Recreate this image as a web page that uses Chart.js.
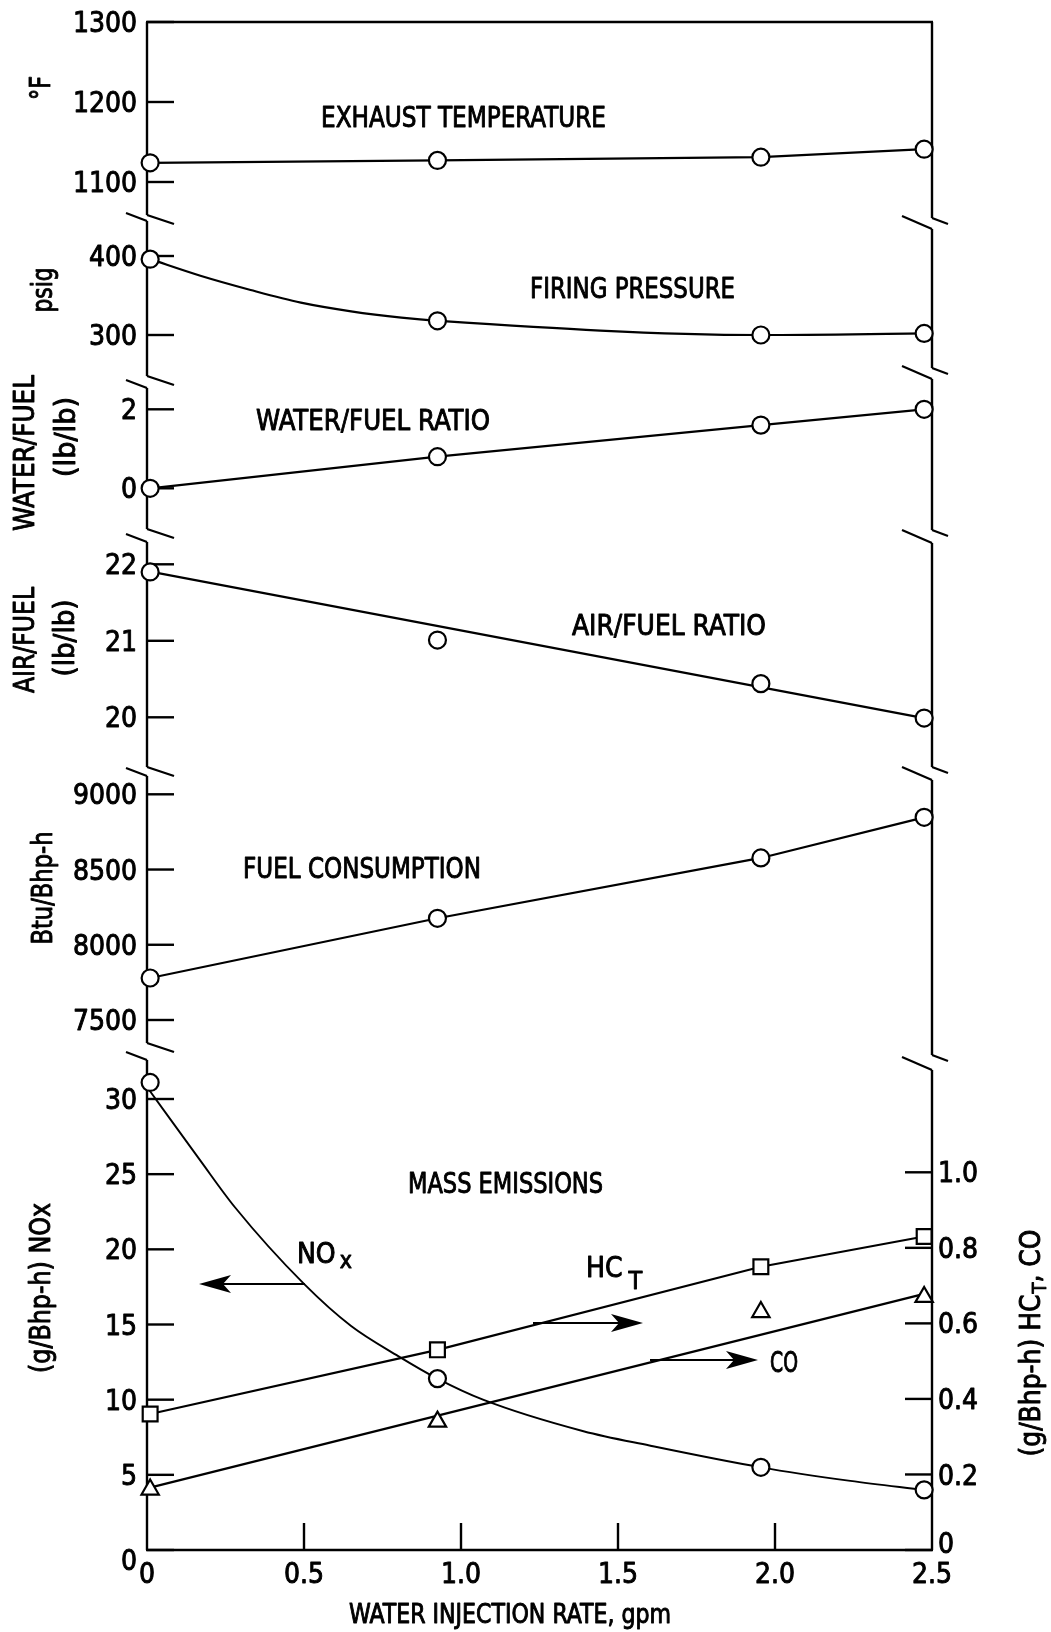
<!DOCTYPE html>
<html>
<head>
<meta charset="utf-8">
<title>Water injection: engine performance and emissions</title>
<script src="https://cdn.jsdelivr.net/npm/chart.js@4.4.1/dist/chart.umd.min.js"></script>
<style>
  html, body { margin: 0; padding: 0; background: #ffffff; }
  canvas { display: block; }
</style>
</head>
<body>
<canvas id="chart" width="1051" height="1632" style="width:1051px;height:1632px"></canvas>
<script>
// Water injection rate (gpm) of each test point
const injectionRate = [0.01, 0.925, 1.955, 2.475];

// Measured engine quantities at each injection rate
const exhaustTemp = [1124, 1127, 1131, 1141];       // deg F
const firingPressure = [396, 318, 300, 302];       // psig
const waterFuelRatio = [0, 0.8, 1.6, 2.0];         // lb/lb
const airFuelRatio = [21.9, 21.01, 20.44, 19.99];  // lb/lb
const fuelConsumption = [7779, 8176, 8577, 8847];  // Btu/Bhp-h
const noxEmission = [31.1, 11.4, 5.5, 4.0];        // g/Bhp-h
const hcEmission = [0.36, 0.53, 0.75, 0.83];       // g/Bhp-h
const coEmission = [0.16, 0.34, 0.63, 0.67];       // g/Bhp-h

// Faired curves and trend lines through the data
const pressureCurveX = [0.01, 0.17, 0.33, 0.49, 0.65, 0.81, 0.925, 1.955, 2.475];
const pressureCurve = [396, 375, 357, 341, 330, 322, 318, 300, 302];
const airFuelTrendX = [0.015, 2.475];
const airFuelTrend = [21.9, 19.99];
const noxCurveX = [0, 0.17, 0.28, 0.5, 0.65, 0.8, 0.925, 1.07, 1.39, 1.6, 1.955, 2.24, 2.475];
const noxCurve = [30.8, 25.9, 22.8, 17.7, 14.9, 12.9, 11.4, 10.0, 7.9, 6.95, 5.5, 4.6, 4.0];
const coTrendX = [0, 2.475];
const coTrend = [0.163, 0.678];

// Tick values
const xTicks = [0, 0.5, 1.0, 1.5, 2.0, 2.5];
const tempTicks = [1100, 1200, 1300];
const pressureTicks = [300, 400];
const waterFuelTicks = [0, 2];
const airFuelTicks = [20, 21, 22];
const fuelTicks = [7500, 8000, 8500, 9000];
const noxTicks = [0, 5, 10, 15, 20, 25, 30];
const hcCoTicks = [0, 0.2, 0.4, 0.6, 0.8, 1.0];

// ---------------------------------------------------------------- layout
const PLOT = { left: 147, right: 932, top: 22, bottom: 1550 };
const FONT = '"DejaVu Sans Condensed", "Liberation Sans Narrow", "Liberation Sans", sans-serif';

// Each stacked panel gets its own value axis spanning the whole plot height;
// two reference values and their vertical positions fix the axis range.
const panels = [
  { id: 'yTemp',  side: 'left',  ticks: tempTicks,      v1: 1300, p1: 22,    v2: 1100, p2: 182 },
  { id: 'yPress', side: 'left',  ticks: pressureTicks,  v1: 400,  p1: 256,   v2: 300,  p2: 335 },
  { id: 'yWater', side: 'left',  ticks: waterFuelTicks, v1: 2,    p1: 409.3, v2: 0,    p2: 488.3 },
  { id: 'yAir',   side: 'left',  ticks: airFuelTicks,   v1: 22,   p1: 564.3, v2: 20,   p2: 717.3 },
  { id: 'yFuel',  side: 'left',  ticks: fuelTicks,      v1: 9000, p1: 794.3, v2: 7500, p2: 1020 },
  { id: 'yNox',   side: 'left',  ticks: noxTicks,       v1: 30,   p1: 1099,  v2: 0,    p2: 1550 },
  { id: 'yHcCo',  side: 'right', ticks: hcCoTicks,      v1: 1.0,  p1: 1172.3, v2: 0,   p2: 1550 }
];

// Broken axis pieces (vertical extents)
const leftSegments  = [[22, 215], [221, 376], [388, 529], [542, 767], [776, 1043], [1060, 1550]];
const rightSegments = [[22, 218], [229, 368], [379, 530], [543, 767], [780, 1055], [1070, 1550]];

function axisRange(p) {
  const k = (p.p2 - p.p1) / (p.v1 - p.v2);
  return { min: p.v2 - (PLOT.bottom - p.p2) / k, max: p.v1 + (p.p1 - PLOT.top) / k };
}

const xy = (xs, ys) => xs.map((x, i) => ({ x: x, y: ys[i] }));

const lineStyle = {
  borderColor: '#000', borderWidth: 2.2, pointBorderColor: '#000',
  pointBackgroundColor: '#fff', pointBorderWidth: 2.2, clip: false, tension: 0, fill: false
};
const markers = { pointStyle: 'circle', pointRadius: 8.5, pointHoverRadius: 8.5 };

const datasets = [
  { ...lineStyle, ...markers, label: 'Exhaust temperature', yAxisID: 'yTemp', data: xy(injectionRate, exhaustTemp), order: 0 },
  { ...lineStyle, ...markers, label: 'Firing pressure', yAxisID: 'yPress', data: xy(injectionRate, firingPressure), showLine: false, order: 0 },
  { ...lineStyle, label: 'Firing pressure curve', yAxisID: 'yPress', data: xy(pressureCurveX, pressureCurve), pointRadius: 0, cubicInterpolationMode: 'monotone', order: 2 },
  { ...lineStyle, ...markers, label: 'Water/fuel ratio', yAxisID: 'yWater', data: xy(injectionRate, waterFuelRatio), order: 0 },
  { ...lineStyle, ...markers, label: 'Air/fuel ratio', yAxisID: 'yAir', data: xy(injectionRate, airFuelRatio), showLine: false, order: 0 },
  { ...lineStyle, label: 'Air/fuel trend', yAxisID: 'yAir', data: xy(airFuelTrendX, airFuelTrend), pointRadius: 0, order: 2 },
  { ...lineStyle, ...markers, label: 'Fuel consumption', yAxisID: 'yFuel', data: xy(injectionRate, fuelConsumption), order: 0 },
  { ...lineStyle, ...markers, label: 'NOx', yAxisID: 'yNox', data: xy(injectionRate, noxEmission), showLine: false, order: 0 },
  { ...lineStyle, label: 'NOx curve', yAxisID: 'yNox', data: xy(noxCurveX, noxCurve), pointRadius: 0, cubicInterpolationMode: 'monotone', borderWidth: 1.9, order: 2 },
  { ...lineStyle, label: 'HC total', yAxisID: 'yHcCo', data: xy(injectionRate, hcEmission), pointStyle: 'rect', pointRadius: 10.5, pointHoverRadius: 10.5, order: 0 },
  { ...lineStyle, label: 'CO', yAxisID: 'yHcCo', data: xy(injectionRate, coEmission), showLine: false, pointStyle: 'triangle', pointRadius: 10, pointHoverRadius: 10, order: 0 },
  { ...lineStyle, label: 'CO trend', yAxisID: 'yHcCo', data: xy(coTrendX, coTrend), pointRadius: 0, order: 2 }
];

const scales = { x: { type: 'linear', min: 0, max: 2.5, display: false, bounds: 'data' } };
panels.forEach(p => {
  const r = axisRange(p);
  scales[p.id] = { type: 'linear', display: false, bounds: 'data', min: r.min, max: r.max };
});

// ---------------------------------------------------------------- text helpers
// Draws a run of text parts (main text plus optional subscripts).
// (x, y) is the start (or centre) of the run at the middle of the capitals.
function drawRich(ctx, parts, x, y, o) {
  o = o || {};
  const size = o.size || 28;
  ctx.save();
  ctx.translate(x, y);
  if (o.rotate) ctx.rotate(o.rotate);
  let total = 0;
  parts.forEach(p => {
    ctx.font = (p.size || size) + 'px ' + FONT;
    p._w = ctx.measureText(p.t).width + (p.gap || 0);
    total += p._w;
  });
  const sx = o.width ? o.width / total : 1;
  ctx.scale(sx, 1);
  let cur = o.align === 'center' ? -total / 2 : (o.align === 'right' ? -total : 0);
  ctx.fillStyle = '#000';
  ctx.strokeStyle = '#000';
  ctx.lineWidth = 0.9;
  ctx.lineJoin = 'round';
  ctx.textAlign = 'left';
  ctx.textBaseline = 'alphabetic';
  const base = 0.36 * size;
  parts.forEach(p => {
    ctx.font = (p.size || size) + 'px ' + FONT;
    const px = cur + (p.gap || 0), py = base + (p.dy || 0);
    ctx.fillText(p.t, px, py);
    ctx.strokeText(p.t, px, py);
    cur += p._w;
  });
  ctx.restore();
}
const txt = (ctx, s, x, y, o) => drawRich(ctx, [{ t: s }], x, y, o);

function seg(ctx, x1, y1, x2, y2) {
  ctx.beginPath(); ctx.moveTo(x1, y1); ctx.lineTo(x2, y2); ctx.stroke();
}

function arrow(ctx, x0, y, tip) {
  const dir = Math.sign(tip - x0);
  const len = 32, half = 9, notch = 8;
  seg(ctx, x0, y, tip - dir * (len - notch), y);
  ctx.beginPath();
  ctx.moveTo(tip, y);
  ctx.lineTo(tip - dir * len, y - half);
  ctx.lineTo(tip - dir * (len - notch), y);
  ctx.lineTo(tip - dir * len, y + half);
  ctx.closePath();
  ctx.fill();
}

const fmt = v => (v === 0 ? '0' : v.toFixed(1));

// ---------------------------------------------------------------- plugin
const brokenAxes = {
  id: 'brokenAxes',
  beforeDatasetsDraw(chart) {
    const ctx = chart.ctx;
    const xs = chart.scales.x;
    const L = xs.getPixelForValue(0), R = xs.getPixelForValue(2.5);
    const T = chart.chartArea.top, B = chart.chartArea.bottom;
    ctx.save();
    ctx.strokeStyle = '#000';
    ctx.lineWidth = 2.4;
    seg(ctx, L - 1, T, R + 1, T);
    seg(ctx, L - 1, B, R + 1, B);
    leftSegments.forEach(s => seg(ctx, L, s[0], L, s[1]));
    rightSegments.forEach(s => seg(ctx, R, s[0], R, s[1]));
    ctx.lineWidth = 2.2;
    for (let i = 1; i < leftSegments.length; i++) {
      const end = leftSegments[i - 1][1], start = leftSegments[i][0];
      seg(ctx, L, end, L + 27, end + 9);
      seg(ctx, L - 21, start - 8, L, start);
    }
    for (let i = 1; i < rightSegments.length; i++) {
      const end = rightSegments[i - 1][1], start = rightSegments[i][0];
      seg(ctx, R, end, R + 16, end + 6);
      seg(ctx, R - 30, start - 13, R, start);
    }
    ctx.lineWidth = 2.4;
    panels.forEach(p => {
      const s = chart.scales[p.id];
      p.ticks.forEach(v => {
        const y = s.getPixelForValue(v);
        if (p.side === 'left') seg(ctx, L, y, L + 27, y);
        else seg(ctx, R, y, R - 27, y);
      });
    });
    xTicks.forEach(v => {
      if (v > 0 && v < 2.5) {
        const x = xs.getPixelForValue(v);
        seg(ctx, x, B, x, B - 27);
      }
    });
    ctx.restore();
  },
  afterDatasetsDraw(chart) {
    const ctx = chart.ctx;
    const xs = chart.scales.x;
    const L = xs.getPixelForValue(0), R = xs.getPixelForValue(2.5);
    const B = chart.chartArea.bottom;
    ctx.save();

    // tick labels
    panels.forEach(p => {
      const s = chart.scales[p.id];
      p.ticks.forEach(v => {
        let y = s.getPixelForValue(v);
        if (p.side === 'left') {
          if (p.id === 'yNox' && v === 0) y += 10;
          txt(ctx, String(v), L - 10, y, { size: 28, align: 'right' });
        } else {
          if (v === 0) y -= 7;
          txt(ctx, fmt(v), R + 6, y, { size: 28 });
        }
      });
    });
    xTicks.forEach(v => {
      txt(ctx, fmt(v), xs.getPixelForValue(v), B + 23, { size: 28, align: 'center' });
    });

    // panel titles
    txt(ctx, 'EXHAUST TEMPERATURE', 321, 117, { width: 285 });
    txt(ctx, 'FIRING PRESSURE', 530, 288, { width: 205 });
    txt(ctx, 'WATER/FUEL RATIO', 256, 420, { width: 234 });
    txt(ctx, 'AIR/FUEL RATIO', 572, 625, { width: 194 });
    txt(ctx, 'FUEL CONSUMPTION', 243, 868, { width: 238 });
    txt(ctx, 'MASS EMISSIONS', 408, 1183, { width: 195 });

    // curve labels and arrows
    drawRich(ctx, [{ t: 'NO' }, { t: 'x', size: 23, dy: 5, gap: 4 }], 297, 1253, { size: 28 });
    drawRich(ctx, [{ t: 'HC' }, { t: 'T', size: 25, dy: 12, gap: 6 }], 586, 1267, { size: 28 });
    txt(ctx, 'CO', 770, 1362, { width: 28 });
    ctx.strokeStyle = '#000';
    ctx.fillStyle = '#000';
    ctx.lineWidth = 2.2;
    arrow(ctx, 305, 1284, 199);
    arrow(ctx, 533, 1323, 643);
    arrow(ctx, 650, 1360, 758);

    // axis titles
    const up = -Math.PI / 2;
    txt(ctx, '°F', 40, 88, { rotate: up, align: 'center', width: 24 });
    txt(ctx, 'psig', 42, 290, { rotate: up, align: 'center', width: 45 });
    txt(ctx, 'WATER/FUEL', 24, 453, { rotate: up, align: 'center', width: 156 });
    txt(ctx, '(lb/lb)', 65, 437, { rotate: up, align: 'center', width: 80 });
    txt(ctx, 'AIR/FUEL', 24, 640, { rotate: up, align: 'center', width: 106 });
    txt(ctx, '(lb/lb)', 64, 638, { rotate: up, align: 'center', width: 77 });
    txt(ctx, 'Btu/Bhp-h', 42, 888, { rotate: up, align: 'center', width: 113 });
    txt(ctx, '(g/Bhp-h) NOx', 40, 1288, { rotate: up, align: 'center', width: 170 });
    drawRich(ctx, [{ t: '(g/Bhp-h) HC' }, { t: 'T', size: 20, dy: 6, gap: 1 }, { t: ', CO' }],
      1030, 1343, { rotate: up, align: 'center', width: 227, size: 28 });
    txt(ctx, 'WATER INJECTION RATE, gpm', 510, 1614, { align: 'center', width: 322, size: 26 });

    ctx.restore();
  }
};

new Chart(document.getElementById('chart'), {
  type: 'line',
  data: { datasets: datasets },
  options: {
    responsive: false,
    devicePixelRatio: 1,
    animation: false,
    layout: { padding: { left: PLOT.left, right: 1051 - PLOT.right, top: PLOT.top, bottom: 1632 - PLOT.bottom } },
    scales: scales,
    plugins: { legend: { display: false }, tooltip: { enabled: false } },
    events: []
  },
  plugins: [brokenAxes]
});
</script>
</body>
</html>
